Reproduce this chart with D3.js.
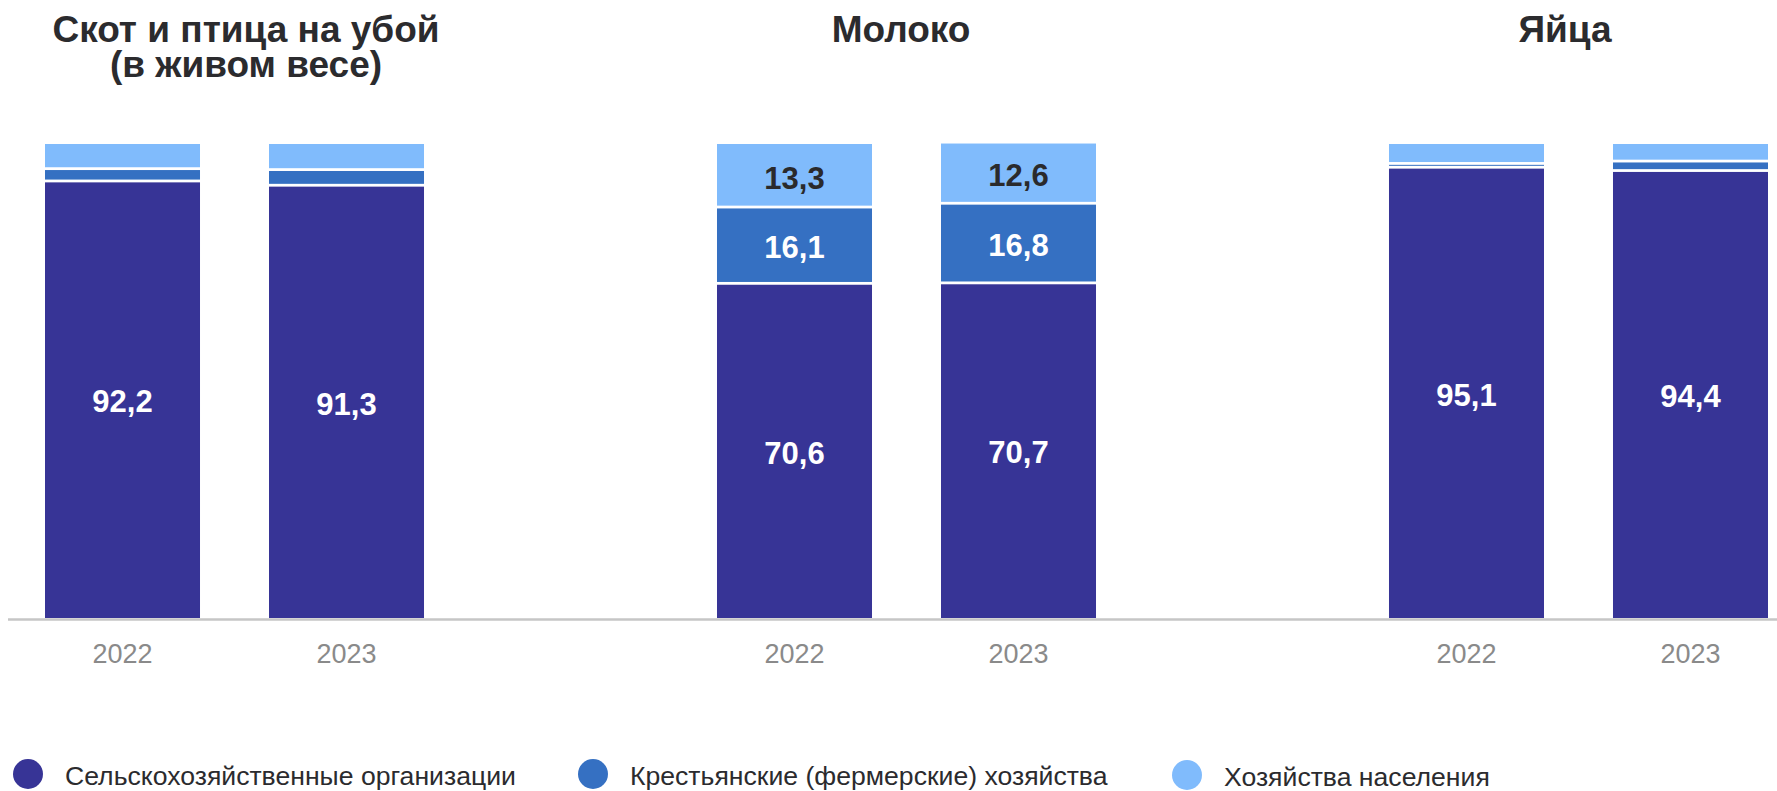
<!DOCTYPE html>
<html>
<head>
<meta charset="utf-8">
<script src="https://cdn.jsdelivr.net/npm/d3@7/dist/d3.min.js"></script>
<style>
  html, body { margin: 0; padding: 0; background: #ffffff; }
  svg { display: block; }
  text { font-family: "Liberation Sans", Arial, sans-serif; }
</style>
</head>
<body>
<svg id="chart" width="1777" height="791"></svg>
<script>
// ---- data ----
const groups = ["Скот и птица на убой (в живом весе)", "Молоко", "Яйца"];
const groupTitles = [["Скот и птица на убой", "(в живом весе)"], ["Молоко"], ["Яйца"]];
const years = ["2022", "2023"];
const seriesNames = ["Сельскохозяйственные организации", "Крестьянские (фермерские) хозяйства", "Хозяйства населения"];
// values per group, per year (percent)
const agriOrg   = [[92.2, 91.3], [70.6, 70.7], [95.1, 94.4]];
const farms     = [[2.6, 3.3],   [16.1, 16.8], [0.8, 2.0]];
const household = [[5.2, 5.4],   [13.3, 12.6], [4.1, 3.6]];
const seriesValues = [agriOrg, farms, household];

// ---- layout ----
const W = 1777, H = 791;
const colors = ["#373496", "#3570c2", "#80bbfc"];
const labelColors = ["#ffffff", "#ffffff", "#2a2a2c"];
const svg = d3.select("#chart");
svg.append("rect").attr("width", W).attr("height", H).attr("fill", "#ffffff");

const x0 = d3.scaleBand().domain(groups).range([45, 1768]).paddingInner(0.436).paddingOuter(0);
const x1 = d3.scaleBand().domain(years).range([0, x0.bandwidth()]).paddingInner(0.308).paddingOuter(0);
const y = d3.scaleLinear().domain([0, 100]).range([618, 144]);

const titleX = [246, 901, 1565];
const gap = 2.8;

// build stacked rows
const rows = [];
groups.forEach((g, gi) => {
  years.forEach((yr, yi) => {
    const row = { group: g, year: yr, gi, yi };
    seriesNames.forEach((s, si) => { row[s] = seriesValues[si][gi][yi]; });
    rows.push(row);
  });
});
const stack = d3.stack().keys(seriesNames);
const stacked = stack(rows);

const gBars = svg.append("g");
stacked.forEach((layer, si) => {
  const isTop = si === stacked.length - 1;
  layer.forEach(d => {
    const row = d.data;
    const bx = x0(row.group) + x1(row.year);
    let top = y(d[1]);
    let bot = y(d[0]);
    if (d[0] > 0) bot -= gap / 2;
    if (!isTop) top += gap / 2;
    gBars.append("rect")
      .attr("x", bx).attr("y", top)
      .attr("width", x1.bandwidth())
      .attr("height", Math.max(0.6, bot - top))
      .attr("fill", colors[si]);
    const v = row[seriesNames[si]];
    if (v >= 10) {
      const mid = (y(d[0]) + y(d[1])) / 2;
      gBars.append("text")
        .attr("x", bx + x1.bandwidth() / 2)
        .attr("y", mid + 13)
        .attr("text-anchor", "middle")
        .attr("font-size", 31)
        .attr("font-weight", "bold")
        .attr("fill", labelColors[si])
        .text(v.toFixed(1).replace(".", ","));
    }
  });
});

// axis line
svg.append("line").attr("x1", 8).attr("x2", W).attr("y1", 619.5).attr("y2", 619.5)
  .attr("stroke", "#c6c6c6").attr("stroke-width", 2.5);

// year labels
groups.forEach((g, gi) => {
  const ax = d3.axisBottom(x1).tickSize(0).tickPadding(0);
  const ga = svg.append("g").attr("transform", `translate(${x0(g)},663)`).call(ax);
  ga.select(".domain").remove();
  ga.selectAll("text")
    .attr("dy", 0).attr("y", 0)
    .attr("font-size", 27)
    .attr("font-family", "'Liberation Sans', Arial, sans-serif")
    .attr("fill", "#8a8a8a");
});

// titles
groups.forEach((g, gi) => {
  groupTitles[gi].forEach((line, li) => {
    svg.append("text")
      .attr("x", titleX[gi]).attr("y", 42 + li * 35)
      .attr("text-anchor", "middle")
      .attr("font-size", 37).attr("font-weight", "bold")
      .attr("fill", "#2b2b2e")
      .text(line);
  });
});

// legend
const legendX = [28, 593, 1187];
const legendDy = [0, 0, 1];
seriesNames.forEach((s, si) => {
  const lg = svg.append("g").attr("transform", `translate(${legendX[si]},${774 + legendDy[si]})`);
  lg.append("circle").attr("r", 15).attr("fill", colors[si]);
  lg.append("text").attr("x", 37).attr("y", 11)
    .attr("font-size", 26.6).attr("fill", "#2b2b2e").text(s);
});
</script>
</body>
</html>
